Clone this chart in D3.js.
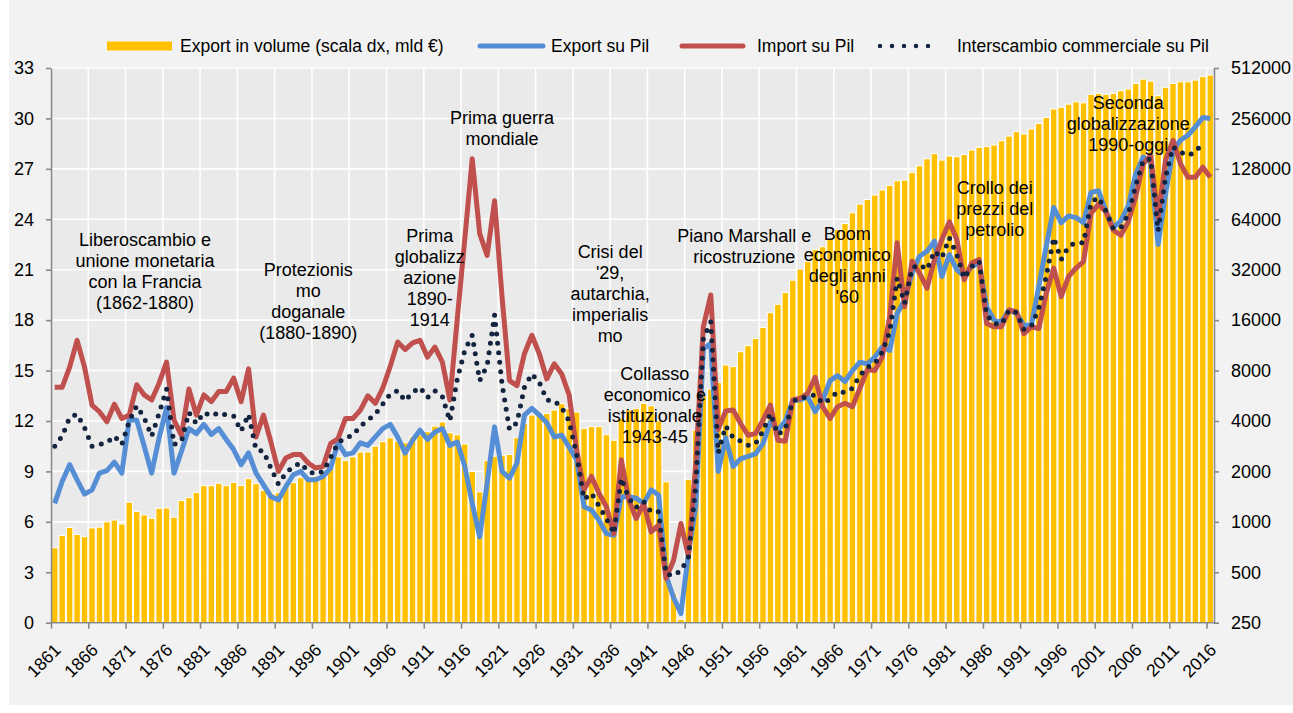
<!DOCTYPE html>
<html>
<head>
<meta charset="utf-8">
<script src="https://cdn.jsdelivr.net/npm/d3@7"></script>
<style>
  body { margin: 0; background: #ffffff; }
  svg text { font-family: "Liberation Sans", Arial, sans-serif; fill: #000; }
</style>
</head>
<body>
<div id="chart"></div>
<script>
"use strict";

// categories
var years = d3.range(1861, 2017);

// Export in volume, mld € (right axis, log scale)
var exportVolume = [
  700, 830, 925, 840, 815, 920, 930, 1000, 1025, 970,
  1310, 1155, 1100, 1050, 1205, 1210, 1065, 1340, 1395, 1500,
  1645, 1645, 1700, 1645, 1720, 1650, 1810, 1690, 1540, 1480,
  1490, 1660, 1715, 1835, 1780, 1875, 2000, 2095, 2445, 2320,
  2445, 2610, 2610, 2830, 3010, 3175, 3030, 2965, 3220, 3295,
  3450, 3730, 3945, 3400, 3310, 2915, 2000, 1510, 2320, 2460,
  2500, 2525, 3175, 3870, 4340, 4340, 4440, 4650, 5075, 4755,
  4520, 3615, 3700, 3700, 3310, 3070, 4150, 4650, 4755, 5100,
  4925, 4000, 1735, 375, 262, 1795, 3530, 5660, 6200, 6800,
  8640, 8440, 10360, 11260, 12440, 14490, 17710, 19900, 23400, 27700,
  32300, 35900, 42200, 43900, 49200, 55700, 60400, 70000, 78800, 84000,
  89300, 95700, 102000, 108600, 109600, 121900, 133700, 147000, 157600, 144300,
  152600, 151200, 155800, 165800, 172100, 173700, 177700, 188300, 200900, 213300,
  206500, 221300, 238900, 259600, 291400, 298300, 311600, 321800, 317400, 356300,
  361300, 356300, 361300, 374800, 383500, 413900, 439600, 427500, 349800, 392700,
  413900, 423700, 423700, 433500, 454200, 464700
];

// Export su Pil (%)
var exportPil = [
  7.1, 8.4, 9.4, 8.5, 7.65, 7.9, 8.9, 9.05, 9.55, 8.9,
  12.1, 12.05, 10.5, 8.9, 11.0, 12.8, 8.9, 10.2, 11.55, 11.25,
  11.8, 11.2, 11.55, 10.9, 10.3, 9.4, 10.1, 8.9, 8.2, 7.5,
  7.3, 8.1, 8.8, 9.0, 8.5, 8.5, 8.7, 9.2, 10.7, 10.0,
  10.1, 10.7, 10.55, 11.05, 11.55, 11.8, 11.05, 10.1, 10.85, 11.45,
  10.9, 11.35, 11.55, 10.55, 10.75, 9.3, 7.1, 5.1, 8.3, 11.65,
  9.0, 8.6, 9.5, 12.35, 12.75, 12.35, 11.9, 11.05, 11.15, 10.45,
  9.7, 6.9, 6.7, 6.1, 5.3, 5.2, 7.5, 7.5, 7.4, 7.1,
  7.9, 7.6, 2.8, 1.5, 0.55, 4.1, 7.0, 16.3, 16.6, 9.0,
  11.0, 9.3, 9.75, 9.9, 10.05, 10.65, 11.95, 11.45, 12.0, 13.25,
  13.25, 13.45, 12.55, 13.25, 14.4, 14.7, 14.35, 15.0, 15.5, 15.4,
  15.8, 16.4, 16.2, 18.4, 19.2, 20.8, 21.8, 22.1, 22.7, 20.6,
  21.9, 21.0, 20.6, 21.2, 21.4, 18.8, 18.0, 17.9, 18.6, 18.4,
  17.7, 17.7, 20.0, 22.4, 24.7, 23.8, 24.2, 24.1, 23.8, 25.6,
  25.7, 24.5, 23.5, 23.9, 24.8, 26.7, 27.7, 27.4, 22.5, 25.5,
  28.1, 28.7, 29.0, 29.5, 30.05, 30.0
];

// Import su Pil (%)
var importPil = [
  14.0, 14.0, 15.2, 16.8, 15.2, 12.95, 12.55, 11.95, 13.0, 12.15,
  12.35, 14.15, 13.55, 13.25, 14.25, 15.5, 12.05, 11.15, 13.9, 12.35,
  13.55, 13.15, 13.75, 13.75, 14.55, 13.15, 15.1, 11.05, 12.35, 10.75,
  9.0, 9.8, 10.0, 10.0, 9.5, 9.2, 9.3, 10.65, 10.95, 12.15,
  12.15, 12.65, 13.5, 13.05, 13.95, 15.25, 16.7, 16.25, 16.65, 16.8,
  15.8, 16.4, 15.5, 13.25, 18.1, 22.8, 27.6, 23.15, 21.85, 25.1,
  19.4, 14.4, 14.1, 16.0, 17.1, 16.0, 14.5, 15.4, 14.8, 13.55,
  10.3, 7.9, 8.7, 7.7, 6.9, 5.3, 9.7, 7.3, 6.2, 7.1,
  5.4, 5.8, 2.65, 3.7, 5.9, 3.95, 9.6, 17.6, 19.5, 11.5,
  12.6, 12.65, 11.85, 11.15, 11.25, 12.05, 12.95, 10.85, 10.8, 13.25,
  13.35, 13.65, 14.6, 12.85, 12.15, 12.85, 13.05, 12.85, 13.95, 15.05,
  15.0, 15.8, 18.2, 22.6, 18.8, 21.5, 20.8, 19.9, 21.6, 22.8,
  23.85, 22.8, 20.4, 21.4, 21.6, 17.8, 17.6, 17.6, 18.6, 18.5,
  17.2, 17.6, 17.5, 19.6, 21.1, 19.4, 20.6, 21.1, 21.5, 24.35,
  24.9, 24.45, 23.35, 23.05, 23.85, 25.35, 27.3, 27.8, 24.1, 27.5,
  28.7, 27.3, 26.5, 26.5, 27.1, 26.5
];

// Interscambio commerciale su Pil (%), no value for the last year
var interscambioPil = [
  10.5, 11.1, 12.2, 12.4, 11.6, 10.5, 10.6, 10.7, 11.1, 10.6,
  12.0, 12.9, 12.2, 11.1, 12.45, 13.9, 10.6, 10.8, 12.5, 11.85,
  12.5, 12.3, 12.5, 12.35, 12.3, 11.4, 12.4, 10.3, 10.2, 9.2,
  8.25, 8.9, 9.3, 9.5, 9.0, 8.85, 9.0, 9.8, 10.7, 11.0,
  11.15, 11.7, 12.05, 12.4, 13.0, 13.6, 13.8, 13.2, 13.7, 14.0,
  13.4, 13.8, 13.45, 12.0, 14.5, 16.2, 17.1, 14.4, 15.3, 18.3,
  14.2, 11.5, 11.9, 14.0, 14.8, 14.3, 13.25, 13.2, 12.8, 12.0,
  10.0, 7.35, 7.7, 6.95, 6.2, 5.3, 8.6, 7.4, 6.85, 7.2,
  6.6, 6.6, 2.9, 2.8, 3.1, 3.9, 8.2, 16.9, 17.9, 10.1,
  11.7, 11.0, 10.8, 10.55, 10.65, 11.4, 12.45, 11.2, 11.5, 13.2,
  13.3, 13.5, 13.55, 13.05, 13.3, 13.75, 13.7, 13.95, 14.7, 15.2,
  15.4, 16.1, 17.3, 20.5, 19.0, 21.1, 21.3, 21.0, 22.1, 21.7,
  22.9, 21.9, 20.5, 21.2, 21.5, 18.3, 17.8, 17.75, 18.6, 18.45,
  17.45, 17.65, 18.7, 20.6, 22.9, 21.6, 22.4, 22.6, 22.6, 25.0,
  25.3, 24.5, 23.45, 23.5, 24.3, 26.0, 27.5, 27.6, 23.3, 26.5,
  28.3, 28.0, 27.8, 28.0, 28.55, null
];

// tick labels
var leftTicks = d3.range(0, 34, 3);
var rightTicks = [250, 500, 1000, 2000, 4000, 8000, 16000, 32000, 64000, 128000, 256000, 512000];
var yearTicks = d3.range(1861, 2017, 5);

var legendLabels = ["Export in volume (scala dx, mld €)", "Export su Pil", "Import su Pil", "Interscambio commerciale su Pil"];

// period notes, anchored on (year, left-axis value)
var notes = [
  { year: 1873.6, val: 22.8, lines: ["Liberoscambio e", "unione monetaria", "con la Francia", "(1862-1880)"] },
  { year: 1895.5, val: 21.0, lines: ["Protezionis", "mo", "doganale", "(1880-1890)"] },
  { year: 1911.8, val: 23.05, lines: ["Prima", "globalizz", "azione", "1890-", "1914"] },
  { year: 1921.5, val: 30.05, lines: ["Prima guerra", "mondiale"] },
  { year: 1936.0, val: 22.05, lines: ["Crisi del", "'29,", "autarchia,", "imperialis", "mo"] },
  { year: 1942.0, val: 14.8, lines: ["Collasso", "economico e", "istituzionale", "1943-45"] },
  { year: 1954.0, val: 23.0, lines: ["Piano Marshall e", "ricostruzione"] },
  { year: 1967.8, val: 23.15, lines: ["Boom", "economico", "degli anni", "'60"] },
  { year: 1987.6, val: 25.85, lines: ["Crollo dei", "prezzi del", "petrolio"] },
  { year: 2005.5, val: 30.95, lines: ["Seconda", "globalizzazione", "1990-oggi"] }
];

var colors = { bar: "#FFC000", exp: "#558ED5", imp: "#C0504D", dots: "#14233F" };

var width = 1293, height = 713;
var plot = { left: 51, right: 1214, top: 68, bottom: 622.7 };

var svg = d3.select("#chart").append("svg")
    .attr("width", width)
    .attr("height", height);

// outer background
svg.append("rect")
    .attr("x", 9).attr("y", 0)
    .attr("width", width - 9).attr("height", 705)
    .attr("fill", "#F2F2F2");

// scales
var x = d3.scaleBand().domain(years).range([plot.left, plot.right]).padding(0);
var xLin = d3.scaleLinear().domain([1861, 2017]).range([plot.left, plot.right]);
var yL = d3.scaleLinear().domain([0, 33]).range([plot.bottom, plot.top]);
var yR = d3.scaleLog().base(2).domain([250, 512000]).range([plot.bottom, plot.top]);

// plot area
svg.append("rect")
    .attr("x", plot.left).attr("y", plot.top)
    .attr("width", plot.right - plot.left).attr("height", plot.bottom - plot.top)
    .attr("fill", "#EAEAEA");

// grid
var grid = svg.append("g").attr("stroke", "#ffffff").attr("stroke-width", 1.6);
grid.selectAll("line.h").data(leftTicks).enter().append("line")
    .attr("x1", plot.left).attr("x2", plot.right)
    .attr("y1", function(d) { return yL(d); })
    .attr("y2", function(d) { return yL(d); });
grid.selectAll("line.v").data(yearTicks).enter().append("line")
    .attr("y1", plot.top).attr("y2", plot.bottom)
    .attr("x1", function(d) { return xLin(d); })
    .attr("x2", function(d) { return xLin(d); });

// bars
svg.append("g").selectAll("rect").data(years).enter().append("rect")
    .attr("x", function(d) { return x(d) + 0.5; })
    .attr("width", x.bandwidth() - 1)
    .attr("y", function(d, i) { return yR(exportVolume[i]); })
    .attr("height", function(d, i) { return plot.bottom - yR(exportVolume[i]); })
    .attr("fill", colors.bar)
    .attr("stroke", "#ffffff")
    .attr("stroke-width", 1);

// lines
function lineFor(values) {
    return d3.line()
        .defined(function(d, i) { return values[i] !== null; })
        .x(function(d) { return x(d) + x.bandwidth() / 2; })
        .y(function(d, i) { return yL(values[i]); })(years);
}

svg.append("path").attr("d", lineFor(exportPil))
    .attr("fill", "none").attr("stroke", colors.exp).attr("stroke-width", 5)
    .attr("stroke-linejoin", "round");
svg.append("path").attr("d", lineFor(importPil))
    .attr("fill", "none").attr("stroke", colors.imp).attr("stroke-width", 5)
    .attr("stroke-linejoin", "round");
svg.append("path").attr("d", lineFor(interscambioPil))
    .attr("fill", "none").attr("stroke", colors.dots).attr("stroke-width", 5)
    .attr("stroke-linecap", "round").attr("stroke-dasharray", "0 9.5");

// axes
function styleAxis(g) {
    g.select(".domain").attr("stroke", "#898989").attr("stroke-width", 1.6);
    g.selectAll(".tick line").attr("stroke", "#898989").attr("stroke-width", 1.6);
    g.selectAll("text").style("font-size", "18px").attr("fill", "#000");
}

svg.append("g")
    .attr("transform", "translate(" + plot.left + ",0)")
    .call(d3.axisLeft(yL).tickValues(leftTicks).tickSize(5).tickSizeOuter(0).tickPadding(12))
    .call(styleAxis);

svg.append("g")
    .attr("transform", "translate(" + plot.right + ",0)")
    .call(d3.axisRight(yR).tickValues(rightTicks).tickFormat(d3.format("d")).tickSize(5).tickSizeOuter(0).tickPadding(12))
    .call(styleAxis);

var xAxis = svg.append("g")
    .attr("transform", "translate(0," + plot.bottom + ")")
    .call(d3.axisBottom(xLin).tickValues(yearTicks).tickFormat(d3.format("d")).tickSize(6).tickSizeOuter(0))
    .call(styleAxis);
xAxis.select(".domain").attr("d", "M" + plot.left + ",0H" + plot.right);
xAxis.selectAll(".tick text")
    .style("font-size", "17.5px")
    .attr("y", 0).attr("dy", "0.35em")
    .attr("text-anchor", "end")
    .attr("transform", "translate(6,24) rotate(-45)");

// notes
var noteG = svg.append("g").style("font-size", "18px");
notes.forEach(function(n) {
    var t = noteG.append("text")
        .attr("text-anchor", "middle")
        .attr("x", xLin(n.year))
        .attr("y", yL(n.val));
    t.selectAll("tspan").data(n.lines).enter().append("tspan")
        .attr("x", xLin(n.year))
        .attr("dy", function(d, i) { return i === 0 ? "0.35em" : "21px"; })
        .text(function(d) { return d; });
});

// legend
var legend = svg.append("g").style("font-size", "17.5px");
var legendY = 46;
var swatchX = [[107, 172], [478, 545], [680, 745], [880, 940]];
var textX = [180, 551, 757, 957];

legend.append("rect")
    .attr("x", swatchX[0][0]).attr("y", legendY - 4.5)
    .attr("width", swatchX[0][1] - swatchX[0][0]).attr("height", 9)
    .attr("fill", colors.bar);
legend.append("line")
    .attr("x1", swatchX[1][0] + 2).attr("x2", swatchX[1][1] - 2)
    .attr("y1", legendY).attr("y2", legendY)
    .attr("stroke", colors.exp).attr("stroke-width", 5).attr("stroke-linecap", "round");
legend.append("line")
    .attr("x1", swatchX[2][0] + 2).attr("x2", swatchX[2][1] - 2)
    .attr("y1", legendY).attr("y2", legendY)
    .attr("stroke", colors.imp).attr("stroke-width", 5).attr("stroke-linecap", "round");
legend.append("line")
    .attr("x1", swatchX[3][0]).attr("x2", swatchX[3][1])
    .attr("y1", legendY).attr("y2", legendY)
    .attr("stroke", colors.dots).attr("stroke-width", 4.5).attr("stroke-linecap", "round")
    .attr("stroke-dasharray", "0 12");

legend.selectAll("text.lbl").data(legendLabels).enter().append("text")
    .attr("class", "lbl")
    .attr("x", function(d, i) { return textX[i]; })
    .attr("y", legendY)
    .attr("dy", "0.35em")
    .text(function(d) { return d; });
</script>
</body>
</html>
